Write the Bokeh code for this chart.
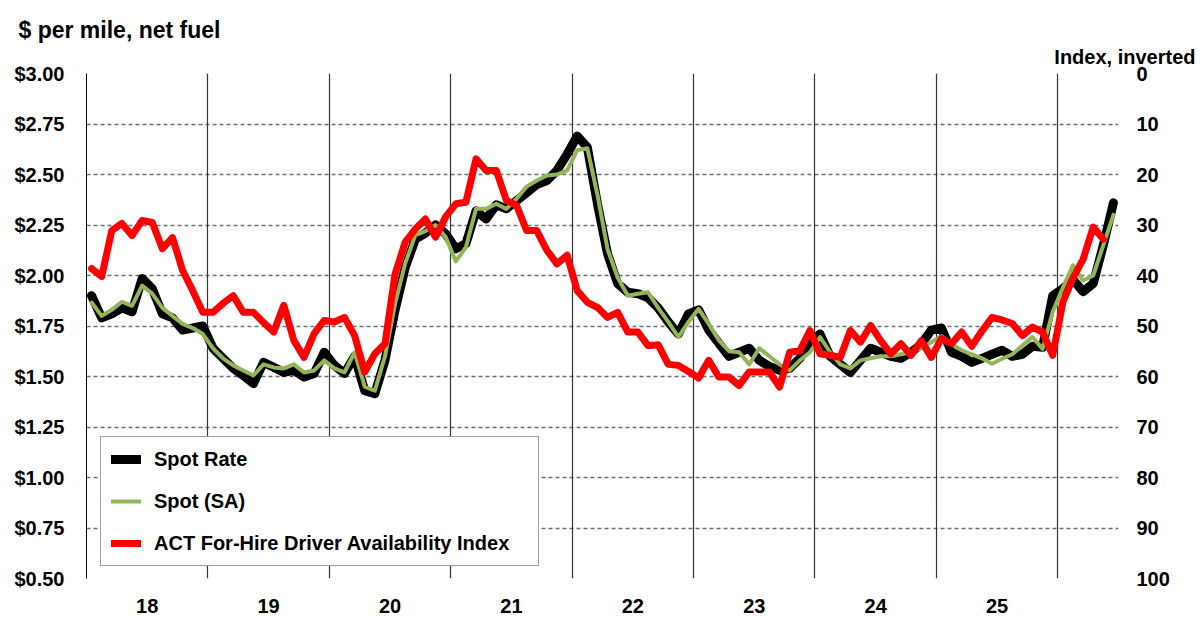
import numpy as np
from bokeh.plotting import figure
from bokeh.models import (Range1d, LinearAxis, FixedTicker, NumeralTickFormatter,
                          Legend, LegendItem, Title, Grid)
from bokeh.embed import file_html
from bokeh.resources import INLINE

# ---------------- data (monthly, Jan 2018 onward) ----------------
year_labels = ["18", "19", "20", "21", "22", "23", "24", "25"]

spot_rate = [
    1.90, 1.79, 1.81, 1.84, 1.82, 1.985, 1.935, 1.81, 1.79, 1.73, 1.74, 1.75,   # 2018
    1.64, 1.59, 1.54, 1.505, 1.465, 1.57, 1.546, 1.52, 1.53, 1.497, 1.515, 1.62,  # 2019
    1.555, 1.515, 1.60, 1.43, 1.415, 1.58, 1.83, 2.04, 2.18, 2.21, 2.25, 2.206,  # 2020
    2.132, 2.157, 2.32, 2.28, 2.35, 2.33, 2.37, 2.41, 2.45, 2.47, 2.52, 2.60,    # 2021
    2.69, 2.635, 2.355, 2.107, 1.96, 1.917, 1.91, 1.89, 1.84, 1.77, 1.71, 1.81,  # 2022
    1.83, 1.73, 1.665, 1.60, 1.62, 1.64, 1.58, 1.55, 1.53, 1.54, 1.59, 1.67,     # 2023
    1.71, 1.60, 1.56, 1.52, 1.58, 1.64, 1.62, 1.60, 1.59, 1.62, 1.66, 1.73,      # 2024
    1.74, 1.62, 1.60, 1.57, 1.59, 1.61, 1.63, 1.60, 1.61, 1.65, 1.645, 1.90,     # 2025
    1.935, 1.98, 1.92, 1.96, 2.15, 2.36,                                          # 2026
]

spot_sa = [
    1.866, 1.80, 1.83, 1.87, 1.85, 1.95, 1.91, 1.84, 1.80, 1.76, 1.74, 1.71,
    1.64, 1.59, 1.555, 1.53, 1.505, 1.56, 1.545, 1.54, 1.56, 1.52, 1.53, 1.58,
    1.54, 1.52, 1.62, 1.45, 1.43, 1.60, 1.86, 2.06, 2.20, 2.22, 2.25, 2.19,
    2.07, 2.14, 2.33, 2.33, 2.355, 2.33, 2.38, 2.44, 2.47, 2.495, 2.50, 2.52,
    2.62, 2.63, 2.40, 2.13, 1.99, 1.90, 1.91, 1.917, 1.84, 1.77, 1.695, 1.77,
    1.835, 1.76, 1.68, 1.625, 1.62, 1.56, 1.64, 1.60, 1.56, 1.53, 1.58, 1.62,
    1.695, 1.62, 1.56, 1.54, 1.58, 1.59, 1.60, 1.60, 1.61, 1.62, 1.64, 1.67,
    1.70, 1.66, 1.63, 1.61, 1.59, 1.563, 1.588, 1.61, 1.653, 1.695, 1.637, 1.82,
    1.94, 2.05, 1.975, 2.00, 2.15, 2.30,
]

driver_index = [
    38.6, 40.2, 31.1, 29.7, 32.1, 29.1, 29.5, 34.7, 32.5, 39.0, 43.0, 47.3,
    47.3, 45.5, 44.0, 47.3, 47.3, 49.3, 51.2, 45.9, 52.9, 56.2, 51.5, 48.9,
    49.2, 48.3, 51.9, 59.1, 55.5, 53.5, 39.7, 33.4, 30.8, 28.8, 32.4, 28.4,
    25.8, 25.5, 16.9, 19.2, 19.2, 25.1, 26.1, 31.1, 31.1, 35.0, 37.7, 36.0,
    43.0, 45.3, 46.3, 48.3, 47.3, 51.2, 51.2, 53.9, 53.7, 57.6, 57.8, 59.0,
    60.3, 56.8, 60.1, 60.1, 61.8, 59.1, 59.1, 59.1, 62.1, 55.2, 54.9, 50.9,
    55.5, 55.8, 56.2, 50.9, 53.2, 49.9, 52.9, 55.5, 53.5, 55.8, 52.9, 56.2,
    52.5, 53.5, 51.2, 54.0, 51.0, 48.3, 48.8, 49.5, 51.9, 50.2, 51.2, 55.8,
    45.3, 40.5, 36.8, 30.4, 32.8,
]

dollar_ticks = [0.50, 0.75, 1.00, 1.25, 1.50, 1.75, 2.00, 2.25, 2.50, 2.75, 3.00]
index_ticks = [0, 10, 20, 30, 40, 50, 60, 70, 80, 90, 100]

# ---------------- figure ----------------
FONT = "Liberation Sans"
n_months = len(spot_rate)
months = np.arange(n_months) + 0.5
idx_months = np.arange(len(driver_index)) + 0.5

p = figure(width=1200, height=630, output_backend="svg", toolbar_location=None,
           x_range=Range1d(0, n_months), y_range=Range1d(dollar_ticks[0], dollar_ticks[-1]),
           min_border_left=86, min_border_right=82, min_border_top=73, min_border_bottom=52,
           x_axis_type=None, y_axis_type=None)
p.outline_line_color = None
p.background_fill_color = "white"
p.border_fill_color = "white"
p.extra_y_ranges = {"idx": Range1d(start=index_ticks[-1], end=index_ticks[0])}

# grids: dashed horizontals at each $0.25, solid verticals between years
year_bounds = [12 * i for i in range(1, len(year_labels) + 1)]
p.add_layout(Grid(dimension=1, ticker=FixedTicker(ticks=dollar_ticks),
                  grid_line_color="#6f6f6f", grid_line_dash="4 3", grid_line_width=1.6))
p.add_layout(Grid(dimension=0, ticker=FixedTicker(ticks=year_bounds),
                  grid_line_color="#333333", grid_line_width=1.2))

# x axis with year labels at mid-year
mid_year = [6 + 12 * i for i in range(len(year_labels))]
xax = LinearAxis(ticker=FixedTicker(ticks=mid_year),
                 major_label_overrides={t: lab for t, lab in zip(mid_year, year_labels)})
xax.axis_line_color = None
xax.major_tick_line_color = None
xax.minor_tick_line_color = None
xax.major_label_standoff = 14
xax.major_label_text_font = FONT
xax.major_label_text_font_style = "bold"
xax.major_label_text_font_size = "20px"
xax.major_label_text_color = "black"
p.add_layout(xax, "below")

# left axis (dollars)
lax = LinearAxis(ticker=FixedTicker(ticks=dollar_ticks),
                 formatter=NumeralTickFormatter(format="$0.00"))
lax.axis_line_color = "black"
lax.axis_line_width = 1
lax.major_tick_line_color = None
lax.minor_tick_line_color = None
lax.major_label_standoff = 16
lax.major_label_text_font = FONT
lax.major_label_text_font_style = "bold"
lax.major_label_text_font_size = "20px"
lax.major_label_text_color = "black"
p.add_layout(lax, "left")

# right axis (index, inverted)
rax = LinearAxis(y_range_name="idx", ticker=FixedTicker(ticks=index_ticks))
rax.axis_line_color = None
rax.major_tick_line_color = None
rax.minor_tick_line_color = None
rax.major_label_standoff = 12
rax.major_label_text_font = FONT
rax.major_label_text_font_style = "bold"
rax.major_label_text_font_size = "20px"
rax.major_label_text_color = "black"
p.add_layout(rax, "right")

# series
r_spot = p.line(months, spot_rate, line_color="black", line_width=9,
                line_join="round", line_cap="round")
r_sa = p.line(months, spot_sa, line_color="#92B558", line_width=4,
              line_join="round", line_cap="round")
r_idx = p.line(idx_months, driver_index, line_color="#FF0000", line_width=7,
               line_join="round", line_cap="round", y_range_name="idx")

legend = Legend(items=[LegendItem(label="Spot Rate", renderers=[r_spot]),
                       LegendItem(label="Spot (SA)", renderers=[r_sa]),
                       LegendItem(label="ACT For-Hire Driver Availability Index", renderers=[r_idx])],
                location=(14, 12))
legend.margin = 0
legend.padding = 10
legend.spacing = 18
legend.label_height = 24
legend.glyph_height = 24
legend.glyph_width = 30
legend.label_standoff = 13
legend.label_width = 374
legend.label_text_font = FONT
legend.label_text_font_style = "bold"
legend.label_text_font_size = "20px"
legend.label_text_color = "black"
legend.border_line_color = "#404040"
legend.border_line_width = 1
legend.background_fill_color = "white"
legend.background_fill_alpha = 1.0
p.add_layout(legend, "center")

# axis titles (nearest to the frame first)
p.add_layout(Title(text="Index, inverted", align="right", offset=-77, standoff=7,
                   vertical_align="top",
                   text_font=FONT, text_font_style="bold", text_font_size="20px",
                   text_color="black"), "above")
p.add_layout(Title(text="$ per mile, net fuel", align="left", offset=-68, standoff=0,
                   vertical_align="bottom",
                   text_font=FONT, text_font_style="bold", text_font_size="23px",
                   text_color="black"), "above")

open("out.html", "w").write(file_html(p, INLINE))
